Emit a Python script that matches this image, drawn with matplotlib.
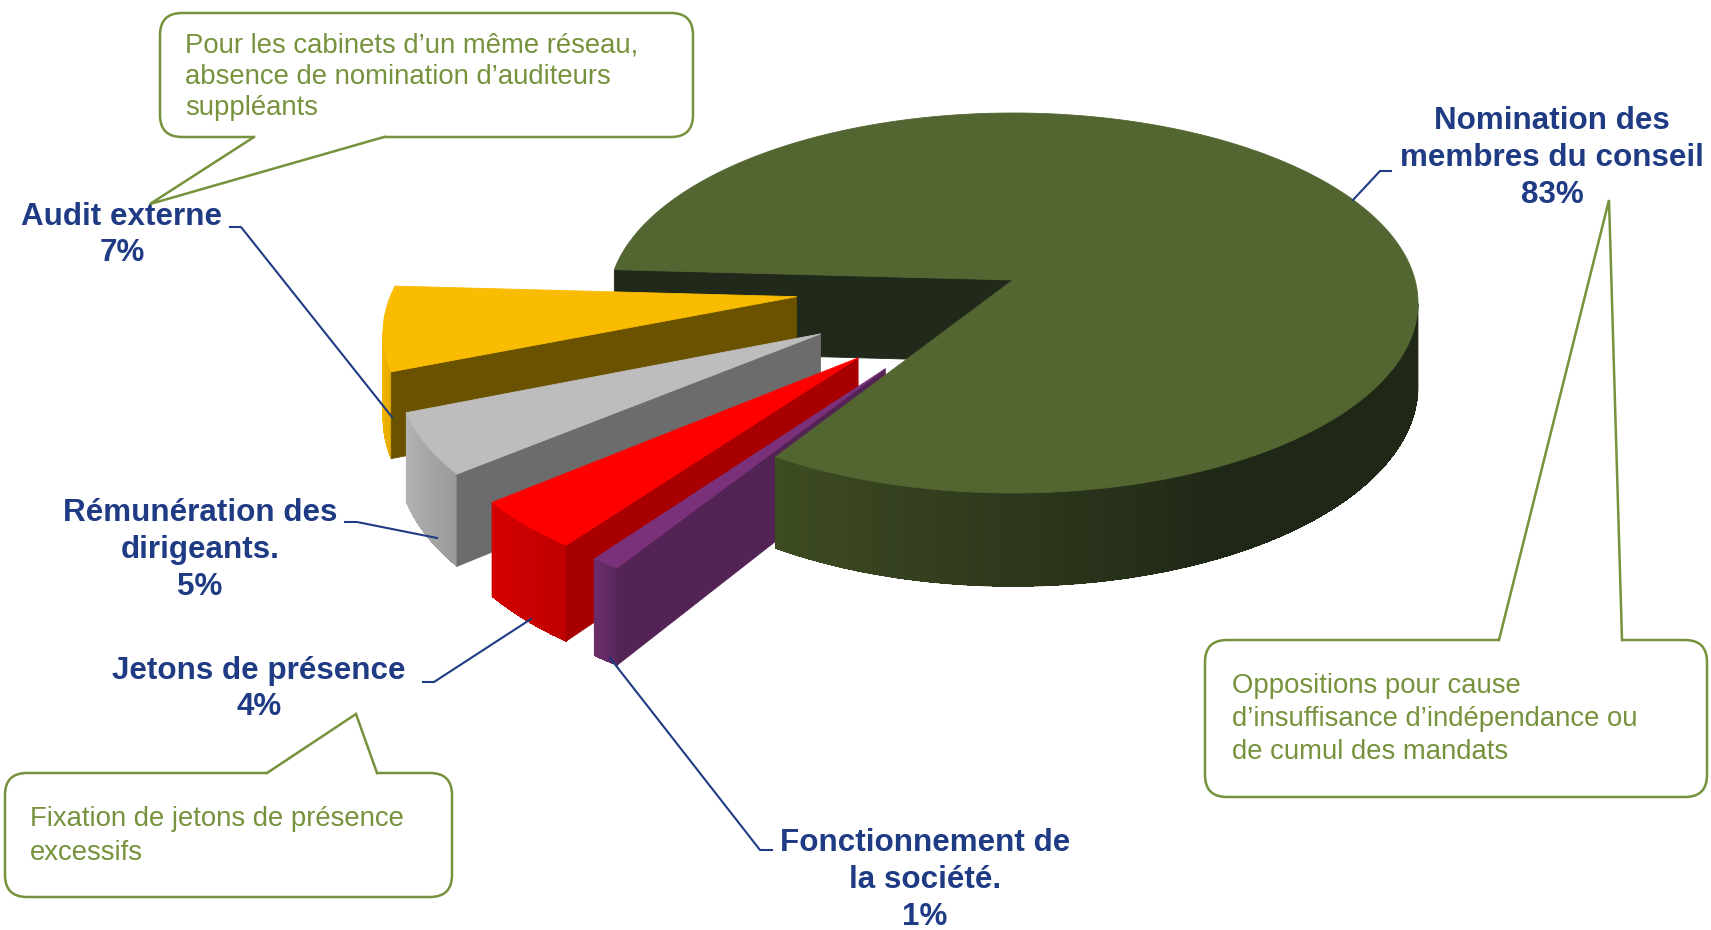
import numpy as np
import matplotlib
matplotlib.use("Agg")
import matplotlib.pyplot as plt
from matplotlib.patches import Polygon, FancyBboxPatch
from matplotlib.lines import Line2D
import matplotlib.colors as mcolors

# ---------------- data ----------------
categories = ["Nomination des\nmembres du conseil", "Audit externe",
              "Rémunération des\ndirigeants.", "Jetons de présence",
              "Fonctionnement de\nla société."]
values = [83, 7, 5, 4, 1]
top_colors = ['#536530', '#f9bc00', '#bdbdbd', '#ff0000', '#7b3179']
face_colors = ['#21291a', '#6b5200', '#6c6c6c', '#a80000', '#532356']
wall_colors = [('#3e4c22', '#1f2716'), ('#f6b900', '#e6aa00'),
               ('#b3b3b3', '#9a9a9a'), ('#d40000', '#bf0000'),
               ('#6c2e6c', '#5a275c')]
explode = [0.0, 0.54, 0.54, 0.54, 0.54]

callout_texts = [
    "Pour les cabinets d\u2019un même réseau,\nabsence de nomination d\u2019auditeurs\nsuppléants",
    "Fixation de jetons de présence\nexcessifs",
    "Oppositions pour cause\nd\u2019insuffisance d\u2019indépendance ou\nde cumul des mandats",
]

# ---------------- layout ----------------
W, H = 1711, 930
CX, CY = 1013, 280       # pie centre (px)
RX, RY = 402, 187.2      # projected radii
PERSP = 0.121            # perspective factor
DEPTH = 82               # pie thickness (px)
START = 238.0            # start angle of first slice (deg, counter-clockwise)

NAVY = '#1f3b84'
OLIVE = '#76923c'
FONT = ['Liberation Sans', 'DejaVu Sans']

label_pos = [(1552, 158), (122, 235), (200, 550), (259, 689), (925, 880)]
leaders = [
    [(1353, 200), (1380, 171), (1391, 171)],
    [(392, 417), (241, 227), (230, 227)],
    [(437, 538), (357, 522), (345, 522)],
    [(531, 619), (434, 682), (423, 682)],
    [(610, 658), (760, 850), (772, 850)],
]
callout_boxes = [(160, 13, 693, 137), (5, 773, 452, 897), (1205, 640, 1707, 797)]
callout_tails = [((254, 384), (150, 204), 'bottom'),
                 ((267, 377), (356, 714), 'top'),
                 ((1499, 1622), (1609, 200), 'top')]
callout_text_pos = [(185, 77), (30, 836), (1232, 719)]
callout_spacing = [1.27, 1.42, 1.37]

fig = plt.figure(figsize=(W / 100, H / 100), dpi=100)
ax = fig.add_axes([0, 0, 1, 1])
ax.set_xlim(0, W)
ax.set_ylim(H, 0)
ax.axis('off')


def proj(X, Y, z=0.0):
    X = np.asarray(X, float)
    Y = np.asarray(Y, float)
    w = 1 + PERSP * Y
    return CX + RX * X / w, CY - RY * Y / w + DEPTH * z / w


total = float(sum(values))
bounds = []
acc = START
for v in values:
    a1 = acc
    a2 = acc + 360.0 * v / total
    bounds.append((a1, a2))
    acc = a2


def offset(i):
    a1, a2 = bounds[i]
    m = np.radians((a1 + a2) / 2)
    return explode[i] * np.cos(m), explode[i] * np.sin(m)


def add_poly(xs, ys, color, z, lw=0.6):
    ax.add_patch(Polygon(np.column_stack([xs, ys]), closed=True, fc=color,
                         ec=color if lw > 0 else 'none', lw=lw, zorder=z,
                         joinstyle='round'))


def draw_top(i, z):
    a1, a2 = bounds[i]
    ox, oy = offset(i)
    t = np.radians(np.linspace(a1, a2, max(8, int((a2 - a1) * 2))))
    X = np.concatenate([[ox], ox + np.cos(t)])
    Y = np.concatenate([[oy], oy + np.sin(t)])
    xs, ys = proj(X, Y)
    add_poly(xs, ys, top_colors[i], z)


def draw_wall(i, z, span=None):
    a1, a2 = bounds[i]
    ox, oy = offset(i)
    tdeg = np.linspace(a1, a2, max(30, int((a2 - a1) * 4)))
    t = np.radians(tdeg)
    xs, _ = proj(ox + np.cos(t), oy + np.sin(t))
    dx = np.gradient(xs)
    vis = dx > 0
    if not vis.any():
        return
    idx = np.where(vis)[0]
    lo, hi = tdeg[idx[0]], tdeg[idx[-1]]
    sp = span if span else max(hi - lo, 1e-6)
    c0 = np.array(mcolors.to_rgb(wall_colors[i][0]))
    c1 = np.array(mcolors.to_rgb(wall_colors[i][1]))
    # whole visible wall as one base polygon (smooth outline)
    tv = t[idx[0]:idx[-1] + 1]
    Xv, Yv = ox + np.cos(tv), oy + np.sin(tv)
    xt, yt = proj(Xv, Yv)
    xb, yb = proj(Xv, Yv, 1)
    add_poly(np.concatenate([xt, xb[::-1]]), np.concatenate([yt, yb[::-1]]),
             (c0 + c1) / 2, z, lw=0.6)
    # gradient bands on top, slightly overlapping, no edges
    for j in range(idx[0], idx[-1]):
        ta, tb = t[j], t[min(j + 2, idx[-1])]
        Xa, Ya = ox + np.cos(ta), oy + np.sin(ta)
        Xb, Yb = ox + np.cos(tb), oy + np.sin(tb)
        p1 = proj(Xa, Ya)
        p2 = proj(Xb, Yb)
        p3 = proj(Xb, Yb, 1)
        p4 = proj(Xa, Ya, 1)
        s = np.clip((tdeg[j] - lo) / sp, 0, 1)
        col = c0 * (1 - s) + c1 * s
        ax.add_patch(Polygon([p1, p2, p3, p4], closed=True, fc=col, ec='none',
                             lw=0, zorder=z + 0.01, antialiased=False))


def draw_face(i, ang, z):
    ox, oy = offset(i)
    a = np.radians(ang)
    X = [ox, ox + np.cos(a), ox + np.cos(a), ox]
    Y = [oy, oy + np.sin(a), oy + np.sin(a), oy]
    zz = [0, 0, 1, 1]
    pts = [proj(x, y, zv) for x, y, zv in zip(X, Y, zz)]
    add_poly([p[0] for p in pts], [p[1] for p in pts], face_colors[i], z)


def draw_faces(i, z):
    a1, a2 = bounds[i]
    if np.cos(np.radians(a1)) > 0:
        draw_face(i, a1, z)
    if np.cos(np.radians(a2)) < 0:
        draw_face(i, a2, z)


# painter's order: big slice's back face, then exploded slices, then big slice
draw_faces(0, 1)
z = 2
for i in range(1, len(values)):
    draw_wall(i, z)
    draw_faces(i, z + 0.1)
    draw_top(i, z + 0.2)
    z += 1
draw_wall(0, z, span=60)
draw_top(0, z + 0.2)

# ---------------- labels ----------------
for i, (name, v) in enumerate(zip(categories, values)):
    x, y = label_pos[i]
    ax.text(x, y, f"{name}\n{v}%", ha='center', va='center', fontsize=22.6,
            fontweight='bold', color=NAVY, family=FONT, linespacing=1.3,
            zorder=20)
    pts = np.array(leaders[i])
    ax.add_line(Line2D(pts[:, 0], pts[:, 1], color=NAVY, lw=1.5, zorder=19))

# ---------------- callouts ----------------
for k, txt in enumerate(callout_texts):
    x0, y0, x1, y1 = callout_boxes[k]
    ax.add_patch(FancyBboxPatch((x0, y0), x1 - x0, y1 - y0,
                                boxstyle="round,pad=0,rounding_size=22",
                                fc='white', ec=OLIVE, lw=1.8, zorder=30))
    (bx1, bx2), (tx, ty), side = callout_tails[k]
    yb = y1 if side == 'bottom' else y0
    inw = -4 if side == 'bottom' else 4
    ax.add_patch(Polygon([(bx1 + 1, yb + inw), (bx1, yb), (tx, ty), (bx2, yb),
                          (bx2 - 1, yb + inw)], closed=True, fc='white',
                         ec='none', zorder=31))
    ax.add_line(Line2D([bx1, tx, bx2], [yb, ty, yb], color=OLIVE, lw=1.8,
                       zorder=32, solid_joinstyle='miter'))
    px, py = callout_text_pos[k]
    ax.text(px, py, txt, ha='left', va='center', fontsize=19.8, color=OLIVE,
            family=FONT, linespacing=callout_spacing[k], zorder=33)

fig.savefig("out.png", dpi=100, facecolor='white')
